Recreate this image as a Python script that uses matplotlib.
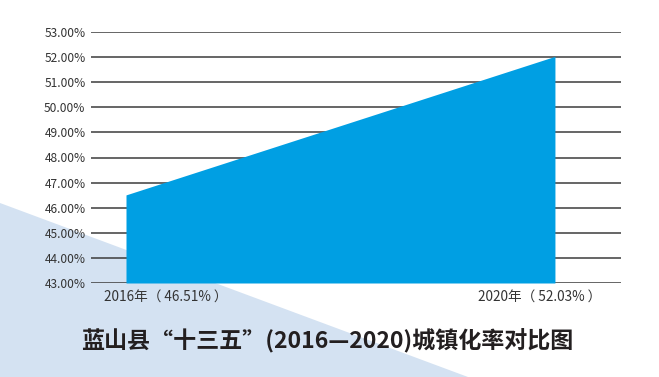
import matplotlib.pyplot as plt
from matplotlib.patches import Polygon

# data
years = ['2016年', '2020年']
rates = [46.51, 52.03]
y_ticks = list(range(43, 54))
y_labels = [f'{v:.2f}%' for v in y_ticks]
tick_labels = [f'{y}（ {r:.2f}% ）' for y, r in zip(years, rates)]
title = '蓝山县“十三五”(2016—2020)城镇化率对比图'

plt.rcParams['font.family'] = ['Noto Sans CJK SC', 'DejaVu Sans']

fig = plt.figure(figsize=(6.59, 3.77), dpi=100)
fig.patch.set_facecolor('white')

# light blue background triangle
tri = Polygon([(0, 1 - 203 / 377), (0, 0), (468 / 659, 0)],
              closed=True, transform=fig.transFigure,
              facecolor='#d4e2f2', edgecolor='none', zorder=-1)
fig.patches.append(tri)

ax = fig.add_axes([91 / 659, 1 - 283 / 377, 530 / 659, 251 / 377])
ax.set_zorder(1)
ax.patch.set_alpha(0)

xs = [0, 1]
ax.fill_between(xs, 43, rates, color='#009fe3', linewidth=0, zorder=2)

ax.set_ylim(43, 53)
ax.set_xlim(-0.0816, 1.154)
ax.set_yticks(y_ticks, labels=y_labels)
ax.grid(axis='y', color='#3c3c3c', linewidth=1.1, zorder=1)
ax.set_axisbelow(True)
for s in ax.spines.values():
    s.set_visible(False)
ax.tick_params(axis='y', length=0, pad=4, labelsize=8.6, labelcolor='#333333')

ax.set_xticks([0.093, 0.965], labels=tick_labels)
ax.tick_params(axis='x', length=0, pad=5, labelsize=9.8, labelcolor='#333333')

fig.text(327 / 659, 1 - 341 / 377, title, ha='center', va='center',
         fontsize=16.6, fontweight='bold', color='#231f20')

plt.savefig('out.png', dpi=100)
plt.close()
